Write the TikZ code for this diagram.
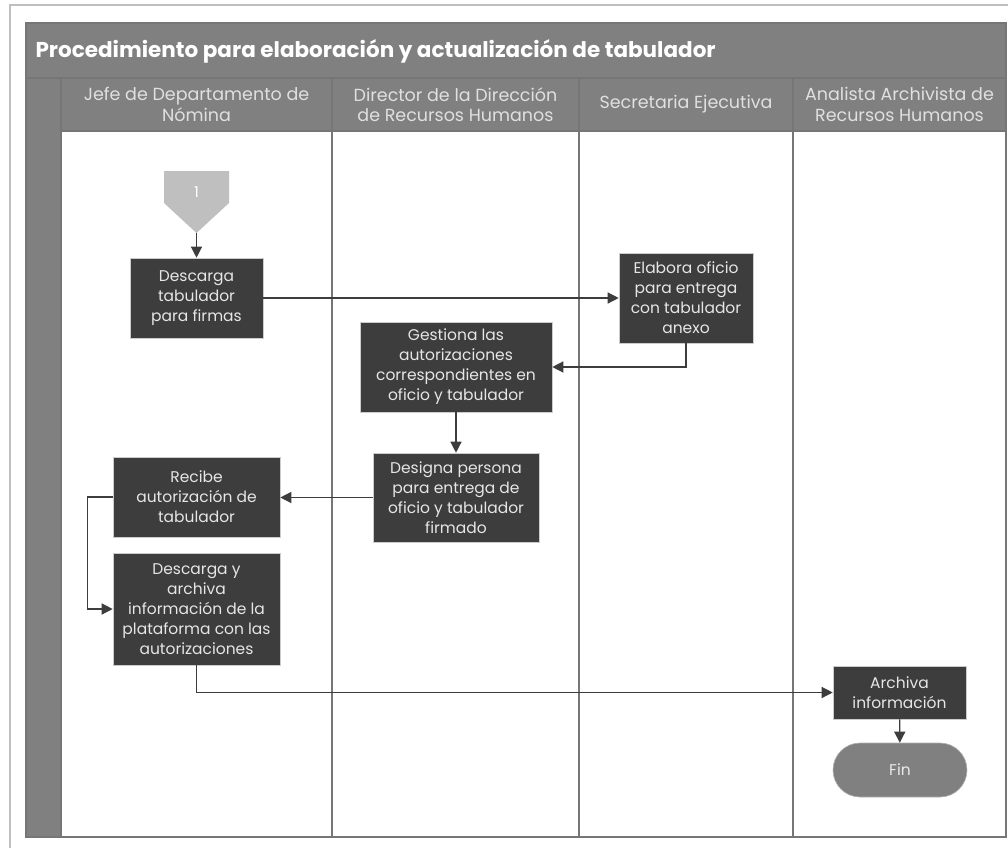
\documentclass[tikz,border=0pt]{standalone}
\usepackage{fontspec}
\setmainfont{Poppins}
\usetikzlibrary{arrows.meta}
\definecolor{banda}{HTML}{808080}
\definecolor{caja}{HTML}{3D3D3D}
\definecolor{textocaja}{HTML}{E6E6E6}
\definecolor{conector}{HTML}{BFBFBF}
\definecolor{carril}{HTML}{767676}
\begin{document}
\begin{tikzpicture}[x=1pt, y=-1pt,
	paso/.style={rectangle, fill=caja, draw=white!80!black, line width=0.6pt, text=textocaja, align=center, inner sep=2pt, font=\fontsize{15.5}{20}\selectfont},
	flecha/.style={draw=caja, line width=1.3pt, -{Triangle[length=11pt,width=11pt]}},
	linea/.style={draw=carril, line width=1.2pt},
	encabezado/.style={text=white!88!black, align=center, font=\fontsize{17.5}{20.5}\selectfont}]
	\useasboundingbox (0,0) rectangle (1008,848);
	\fill[white] (0,0) rectangle (1008,848);
	\draw[line width=1.2pt, white!75!black] (10,848) -- (10,5) -- (1008,5);
	% marco y carriles
	\fill[banda] (26,23) rectangle (1006,131);
	\fill[banda] (26,131) rectangle (61,837);
	\draw[linea] (26,78) -- (1006,78);
	\draw[linea] (61,78) -- (61,837);
	\draw[linea] (61,131) -- (1006,131);
	\foreach \x in {332,579,793} {
		\draw[linea] (\x,78) -- (\x,837);
	}
	\draw[linea] (26,23) rectangle (1006,837);
	\node[anchor=west, text=white, font=\fontsize{21.5}{24}\selectfont\bfseries] (titulo) at (32,51) {Procedimiento para elaboración y actualización de tabulador};
	\node[encabezado] (jefe) at (196.5,104.5) {Jefe de Departamento de\\Nómina};
	\node[encabezado] (director) at (455.5,104.5) {Director de la Dirección\\de Recursos Humanos};
	\node[encabezado] (secretaria) at (686,104.5) {Secretaria Ejecutiva};
	\node[encabezado] (analista) at (899.5,104.5) {Analista Archivista de\\Recursos Humanos};
	% conector de inicio
	\fill[conector] (164,171) -- (229,171) -- (229,203) -- (196.5,233) -- (164,203) -- cycle;
	\node[text=white, font=\fontsize{15}{18}\selectfont] (uno) at (196.5,192) {1};
	\coordinate (inicio) at (196.5,233);
	% actividades
	\node[paso, minimum width=133pt, minimum height=80pt] (descarga) at (196.5,298) {Descarga\\tabulador\\para firmas};
	\node[paso, minimum width=134pt, minimum height=90pt] (elabora) at (686,298) {Elabora oficio\\para entrega\\con tabulador\\anexo};
	\node[paso, minimum width=192pt, minimum height=90pt] (gestiona) at (456,367) {Gestiona las\\autorizaciones\\correspondientes en\\oficio y tabulador};
	\node[paso, minimum width=166pt, minimum height=89pt] (designa) at (456,497.5) {Designa persona\\para entrega de\\oficio y tabulador\\firmado};
	\node[paso, minimum width=167pt, minimum height=80pt] (recibe) at (196.5,497) {Recibe\\autorización de\\tabulador};
	\node[paso, minimum width=167pt, minimum height=112pt] (archivaplat) at (196.5,609) {Descarga y\\archiva\\información de la\\plataforma con las\\autorizaciones};
	\node[paso, minimum width=133pt, minimum height=53pt] (archiva) at (899.5,692.5) {Archiva\\información};
	\node[fill=banda, draw=white!70!black, line width=0.6pt, rounded corners=27pt, minimum width=134pt, minimum height=54pt, text=white!92!black, font=\fontsize{15.5}{20}\selectfont] (fin) at (900,770) {Fin};
	% flujo
	\draw[flecha] (inicio) -- (descarga);
	\draw[flecha] (descarga) -- (elabora);
	\draw[flecha] (elabora.south) |- (gestiona.east);
	\draw[flecha] (gestiona) -- (designa);
	\draw[flecha] (designa.west) -- (designa.west -| recibe.east);
	\draw[flecha] (recibe.west) -- ++(-25,0) |- (archivaplat.west);
	\draw[flecha] (archivaplat.south) |- (archiva.west);
	\draw[flecha] (archiva) -- (fin);
\end{tikzpicture}
\end{document}
